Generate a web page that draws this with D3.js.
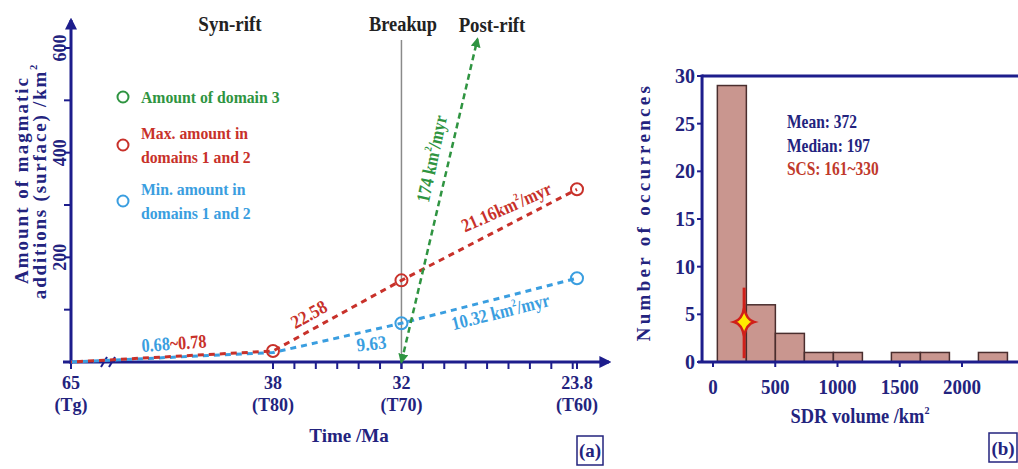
<!DOCTYPE html>
<html>
<head>
<meta charset="utf-8">
<script src="https://cdn.jsdelivr.net/npm/d3@7"></script>
<style>
  body { margin: 0; background: #fff; }
  text { font-family: "Liberation Serif", "Times New Roman", serif; font-weight: bold; }
</style>
</head>
<body>
<svg id="chart" width="1018" height="469"></svg>
<script>
// ---- panel (a) data ----
let maxTime = [65, 38, 32, 23.8];
let maxAmount = [0, 21, 156, 330];
let minTime = [65, 38, 32, 23.8];
let minAmount = [0, 18, 74, 160];
let dom3Time = [32, 28.45];
let dom3Amount = [0, 617];
let xTickVals = [65, 38, 32, 23.8];
let xTickNames = ['(Tg)', '(T80)', '(T70)', '(T60)'];
let yTickVals = [200, 400, 600];
let legendNames = [['Amount of domain 3'], ['Max. amount in', 'domains 1 and 2'], ['Min. amount in', 'domains 1 and 2']];
// ---- panel (b) data ----
let binStart = [35, 268, 501, 734, 967, 1200, 1433, 1666, 1899, 2132];
let binWidth = 233;
let binCount = [29, 6, 3, 1, 1, 0, 1, 1, 0, 1];
let scsValue = 250, scsCount = 4.2, scsLow = 0.4, scsHigh = 7.8;
let statLines = ['Mean: 372', 'Median: 197', 'SCS: 161~330'];

let navy = '#23237e', axisCol = '#1d1d8c';
let red = '#c8312a', blue = '#3a9ee0', green = '#2f9441';

let svg = d3.select('#chart');

function label(g, x, y, parts, o = {}) {
    let t = g.append('text')
        .attr('transform', `translate(${x},${y}) rotate(${o.rot || 0}) scale(${o.sx || 1},1)`)
        .attr('text-anchor', o.anchor || 'middle')
        .attr('font-size', o.size || 18)
        .attr('fill', o.color || navy)
        .attr('letter-spacing', o.ls || 0);
    if (typeof parts === 'string') parts = [{t: parts}];
    parts.forEach(p => {
        let s = t.append('tspan').text(p.t);
        if (p.sup) s.attr('font-size', (o.size || 18) * 0.55).attr('dy', -(o.size || 18) * 0.45);
        if (p.after) s.attr('dy', (o.size || 18) * 0.45);
        if (p.color) s.attr('fill', p.color);
    });
    return t;
}

// ================= panel (a) =================
let x = d3.scaleLinear().domain([65, 38, 23.8]).range([71, 273, 577]);
let y = d3.scaleLinear().domain([0, 600]).range([362, 48]);

let defs = svg.append('defs');
function arrowMarker(id, col, w) {
    defs.append('marker').attr('id', id)
        .attr('viewBox', '0 0 10 10').attr('refX', 8).attr('refY', 5)
        .attr('markerWidth', w).attr('markerHeight', w).attr('orient', 'auto-start-reverse')
        .attr('markerUnits', 'userSpaceOnUse')
        .append('path').attr('d', 'M0,0 L10,5 L0,10 Z').attr('fill', col);
}
arrowMarker('arrNavy', axisCol, 12);
arrowMarker('arrGreen', green, 10);

let a = svg.append('g');

// breakup line
a.append('line').attr('x1', x(32)).attr('x2', x(32)).attr('y1', 40).attr('y2', y(0))
    .attr('stroke', '#8a8a8a').attr('stroke-width', 1.5);

// axes
a.append('line').attr('x1', 63).attr('x2', 609).attr('y1', y(0)).attr('y2', y(0))
    .attr('stroke', axisCol).attr('stroke-width', 3).attr('marker-end', 'url(#arrNavy)');
a.append('line').attr('x1', x(65)).attr('x2', x(65)).attr('y1', y(0) + 2).attr('y2', 20)
    .attr('stroke', axisCol).attr('stroke-width', 3).attr('marker-end', 'url(#arrNavy)');

// y ticks
d3.range(100, 601, 100).forEach(v => {
    a.append('line').attr('x1', x(65) - 7).attr('x2', x(65)).attr('y1', y(v)).attr('y2', y(v))
        .attr('stroke', axisCol).attr('stroke-width', 2);
});
yTickVals.forEach(v => label(a, 66, y(v), String(v), {rot: -90, size: 19, sx: 0.95}));

// x ticks
d3.range(37, 23.9, -1).concat(xTickVals).forEach(v => {
    a.append('line').attr('x1', x(v)).attr('x2', x(v)).attr('y1', y(0)).attr('y2', y(0) + 7)
        .attr('stroke', axisCol).attr('stroke-width', 2);
});
xTickVals.forEach((v, i) => {
    label(a, x(v), 389, String(v), {size: 18});
    label(a, x(v), 411, xTickNames[i], {size: 18});
});
// axis break
[104, 112].forEach(bx => {
    a.append('line').attr('x1', bx - 3).attr('x2', bx + 3).attr('y1', y(0) + 5).attr('y2', y(0) - 5)
        .attr('stroke', axisCol).attr('stroke-width', 2);
});

label(a, 349, 442, 'Time /Ma', {size: 19});
label(a, 28, 180, 'Amount of magmatic', {rot: -90, size: 19, ls: 2});
label(a, 46, 181, [{t: 'additions (surface) /km'}, {t: '2', sup: true}], {rot: -90, size: 19, ls: 1.8});

// phase titles
label(a, 230, 31, 'Syn-rift', {size: 20, sx: 0.95, color: '#222'});
label(a, 403, 31, 'Breakup', {size: 20, sx: 0.92, color: '#222'});
label(a, 492, 32, 'Post-rift', {size: 20, sx: 0.94, color: '#222'});

// series
let line = d3.line().x(d => x(d[0])).y(d => y(d[1]));
let maxPts = maxTime.map((t, i) => [t, maxAmount[i]]);
let minPts = minTime.map((t, i) => [t, minAmount[i]]);
let d3Pts = dom3Time.map((t, i) => [t, dom3Amount[i]]);

a.append('path').attr('d', line(minPts)).attr('fill', 'none').attr('stroke', blue)
    .attr('stroke-width', 3).attr('stroke-dasharray', '6,5');
a.append('path').attr('d', line(maxPts)).attr('fill', 'none').attr('stroke', red)
    .attr('stroke-width', 3).attr('stroke-dasharray', '6,5').attr('stroke-dashoffset', 5);
a.append('path').attr('d', line(d3Pts)).attr('fill', 'none').attr('stroke', green)
    .attr('stroke-width', 2.5).attr('stroke-dasharray', '6,4')
    .attr('marker-start', 'url(#arrGreen)').attr('marker-end', 'url(#arrGreen)');

a.selectAll('circle.mx').data(maxPts.slice(1)).join('circle')
    .attr('cx', d => x(d[0])).attr('cy', d => y(d[1])).attr('r', 6)
    .attr('fill', 'none').attr('stroke', red).attr('stroke-width', 2);
a.selectAll('circle.mn').data(minPts.slice(2)).join('circle')
    .attr('cx', d => x(d[0])).attr('cy', d => y(d[1])).attr('r', 6)
    .attr('fill', 'none').attr('stroke', blue).attr('stroke-width', 2);

// rate labels
label(a, 142, 352, [{t: '0.68', color: blue}, {t: '~0.78', color: red}], {size: 19, sx: 0.85, anchor: 'start', rot: -4});
label(a, 312, 320, '22.58', {size: 19, sx: 0.9, color: red, rot: -29});
label(a, 372, 350, '9.63', {size: 19, sx: 0.9, color: blue, rot: -6});
label(a, 502, 318, [{t: '10.32 km'}, {t: '2', sup: true}, {t: '/myr', after: true}], {size: 19, sx: 0.85, color: blue, rot: -14});
label(a, 509, 213, [{t: '21.16km'}, {t: '2', sup: true}, {t: '/myr', after: true}], {size: 19, sx: 0.85, color: red, rot: -24});
label(a, 438, 160, [{t: '174 km'}, {t: '2', sup: true}, {t: '/myr', after: true}], {size: 19, sx: 0.85, color: green, rot: -78});

// legend
let legColors = [green, red, blue];
let legY = [97, 145, 201];
legendNames.forEach((names, i) => {
    a.append('circle').attr('cx', 123).attr('cy', legY[i]).attr('r', 5.5)
        .attr('fill', 'none').attr('stroke', legColors[i]).attr('stroke-width', 2);
    names.forEach((n, j) => {
        let yy = legY[i] + 6 + (j - (names.length - 1) / 2) * 24;
        label(a, 141, yy, n, {size: 17.5, sx: 0.9, anchor: 'start', color: legColors[i]});
    });
});

// panel tag
a.append('rect').attr('x', 577).attr('y', 436).attr('width', 26).attr('height', 29)
    .attr('fill', 'none').attr('stroke', navy).attr('stroke-width', 1.5);
label(a, 590, 457, '(a)', {size: 19});

// ================= panel (b) =================
let xb = d3.scaleLinear().domain([0, 2000]).range([713, 962]);
let yb = d3.scaleLinear().domain([0, 30]).range([362, 76]);
let b = svg.append('g');

b.selectAll('rect.bar').data(binStart.map((s, i) => ({s, c: binCount[i]})).filter(d => d.c > 0))
    .join('rect').attr('class', 'bar')
    .attr('x', d => xb(d.s)).attr('width', d => xb(d.s + binWidth) - xb(d.s))
    .attr('y', d => yb(d.c)).attr('height', d => yb(0) - yb(d.c))
    .attr('fill', '#c9968f').attr('stroke', '#4a2e2e').attr('stroke-width', 1.5);

// frame
b.append('line').attr('x1', xb(-88)).attr('x2', 1018).attr('y1', yb(30)).attr('y2', yb(30))
    .attr('stroke', axisCol).attr('stroke-width', 3);
b.append('line').attr('x1', xb(-88)).attr('x2', xb(-88)).attr('y1', yb(30) - 1.5).attr('y2', yb(0))
    .attr('stroke', axisCol).attr('stroke-width', 3);
b.append('line').attr('x1', xb(-88) - 4).attr('x2', 1018).attr('y1', yb(0)).attr('y2', yb(0))
    .attr('stroke', axisCol).attr('stroke-width', 3);

d3.range(0, 31, 5).forEach(v => {
    b.append('line').attr('x1', xb(-88) - 5).attr('x2', xb(-88)).attr('y1', yb(v)).attr('y2', yb(v))
        .attr('stroke', axisCol).attr('stroke-width', 2);
    label(b, 695, yb(v) + 7, String(v), {size: 20, anchor: 'end'});
});
d3.range(0, 2501, 500).forEach(v => {
    b.append('line').attr('x1', xb(v)).attr('x2', xb(v)).attr('y1', yb(0)).attr('y2', yb(0) + 5)
        .attr('stroke', axisCol).attr('stroke-width', 2);
    if (v <= 2000) label(b, xb(v), 394, String(v), {size: 20, sx: 0.95});
});

label(b, 650, 212, 'Number of occurrences', {rot: -90, size: 19, ls: 3.3});
label(b, 860, 423, [{t: 'SDR volume /km'}, {t: '2', sup: true}], {size: 20, sx: 0.92});

// stats text
let statCol = [navy, navy, '#c0392b'];
statLines.forEach((s, i) => label(b, 787, 128 + i * 23.5, s, {size: 18, sx: 0.86, anchor: 'start', color: statCol[i]}));

// SCS marker
b.append('line').attr('x1', xb(scsValue)).attr('x2', xb(scsValue))
    .attr('y1', yb(scsHigh)).attr('y2', yb(scsLow))
    .attr('stroke', '#d0201a').attr('stroke-width', 3);
let sw = 10, sh = 14, k = 2.2;
let starPath = `M0,${-sh} Q${k},${-k} ${sw},0 Q${k},${k} 0,${sh} Q${-k},${k} ${-sw},0 Q${-k},${-k} 0,${-sh} Z`;
b.append('path').attr('d', starPath)
    .attr('transform', `translate(${xb(scsValue)},${yb(scsCount)})`)
    .attr('fill', '#ffec00').attr('stroke', '#d0201a').attr('stroke-width', 2.5);

b.append('rect').attr('x', 989).attr('y', 433).attr('width', 28).attr('height', 29)
    .attr('fill', 'none').attr('stroke', navy).attr('stroke-width', 1.5);
label(b, 1003, 455, '(b)', {size: 19});
</script>
</body>
</html>
